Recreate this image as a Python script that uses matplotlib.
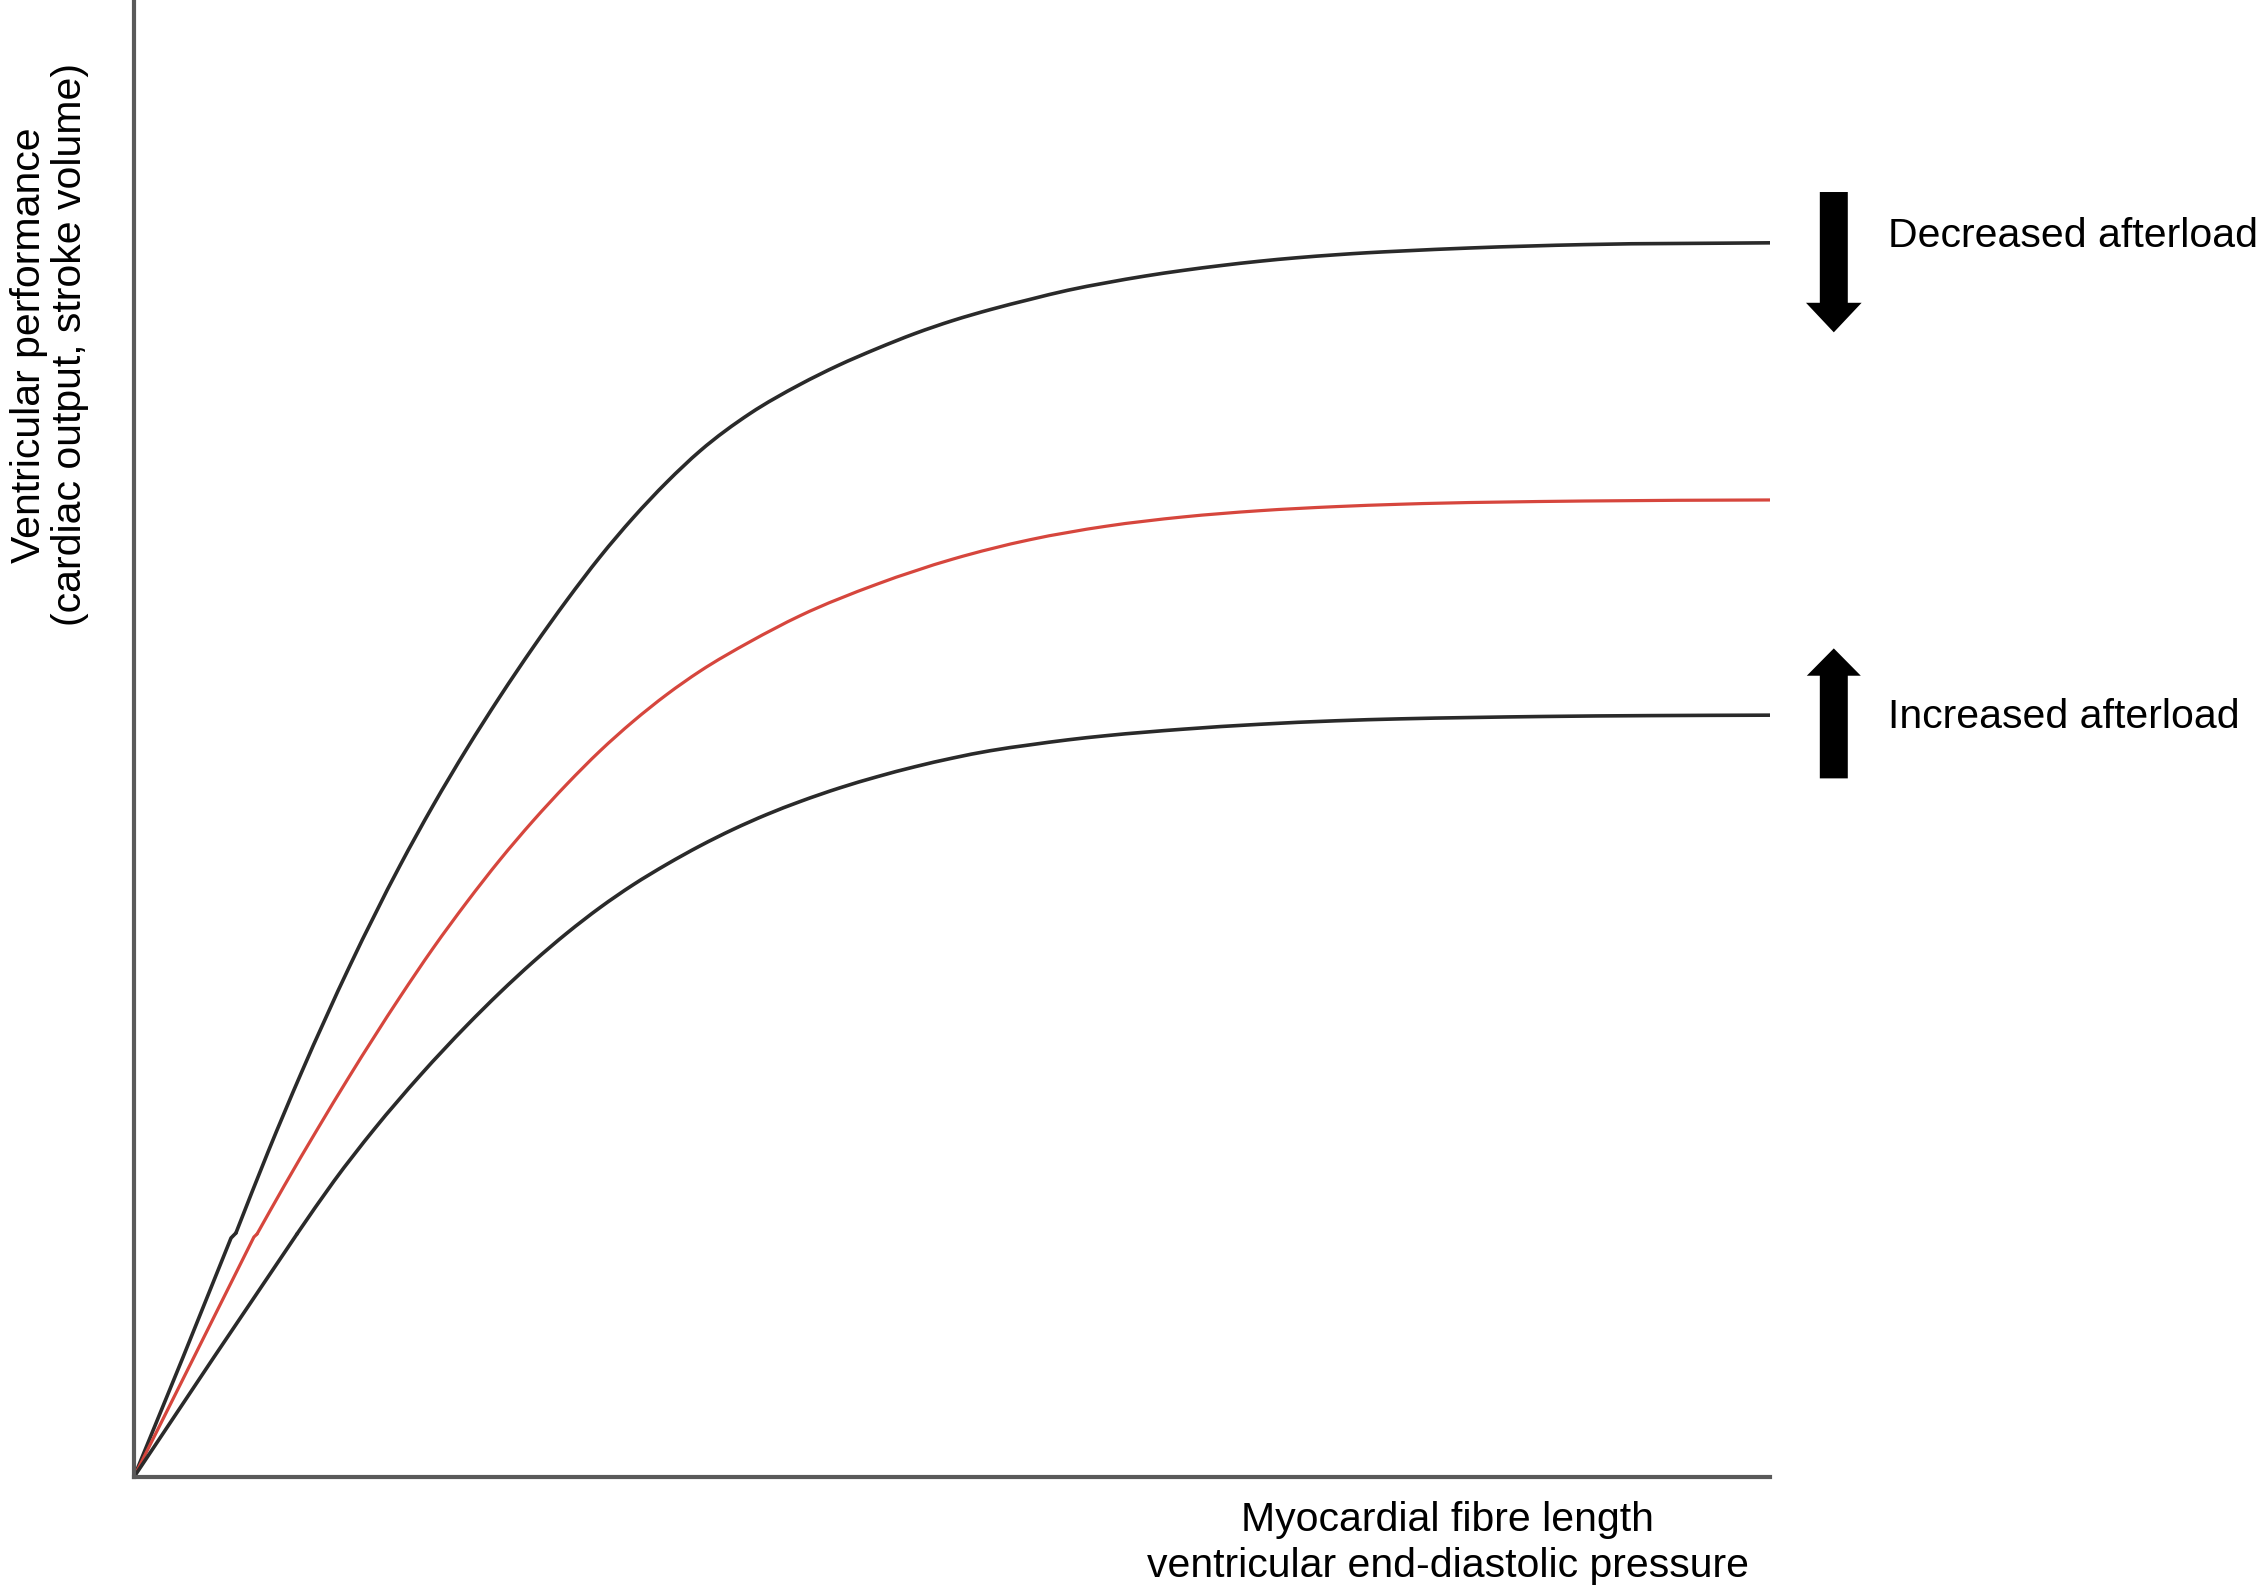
import matplotlib
import numpy as np

matplotlib.use('Agg')
import matplotlib.pyplot as plt
from matplotlib.patches import FancyArrow, PathPatch
from matplotlib.path import Path

# Ventricular function curves (x: fibre length, y: performance, 0-100).
# Each curve has a short straight start up to a small kink, then the smooth part.
x_decreased_start = [0, 3.0, 5.93, 6.23]
y_decreased_start = [0, 8.12, 16.18, 16.52]
x_decreased = [6.23, 8.19, 10.21, 13.20, 16.26, 18.28, 20.35, 22.37, 24.39, 26.47, 28.48,
               30.50, 32.58, 34.60, 37.65, 40.71, 43.03, 45.42, 47.74, 50.06, 52.38, 54.77,
               57.09, 59.41, 61.80, 64.12, 66.44, 68.77, 71.09, 73.47, 75.43, 77.38, 81.66,
               88.69, 100]
y_decreased = [16.52, 22.00, 27.32, 34.63, 41.40, 45.46, 49.32, 52.84, 56.16, 59.38, 62.29,
               64.93, 67.37, 69.47, 72.00, 73.97, 75.25, 76.40, 77.42, 78.30, 79.05, 79.73,
               80.35, 80.85, 81.31, 81.69, 82.02, 82.31, 82.55, 82.75, 82.89, 83.00, 83.21,
               83.44, 83.56]

x_normal_start = [0, 3.73, 7.33, 7.52]
y_normal_start = [0, 8.26, 16.25, 16.45]
x_normal = [7.52, 9.17, 11.19, 13.14, 16.26, 18.28, 20.35, 22.37, 24.39, 26.47, 28.48,
            30.50, 32.58, 34.60, 37.65, 40.71, 45.42, 50.06, 54.77, 59.41, 64.12, 68.77,
            73.47, 77.38, 88.69, 100]
y_normal = [16.45, 19.69, 23.51, 27.08, 32.50, 35.80, 38.93, 41.79, 44.42, 46.92, 49.15,
            51.15, 52.99, 54.56, 56.55, 58.31, 60.45, 62.15, 63.46, 64.37, 65.00, 65.42,
            65.70, 65.86, 66.08, 66.15]

x_increased_start = [0, 4.89, 9.84, 9.96]
y_increased_start = [0, 8.12, 16.25, 16.45]
x_increased = [9.96, 12.22, 14.67, 17.54, 20.35, 22.37, 24.39, 26.47, 28.48, 30.50, 32.58,
               34.60, 36.61, 38.69, 40.71, 43.15, 45.42, 47.74, 50.06, 52.32, 54.77, 57.09,
               59.41, 64.12, 68.77, 73.47, 77.38, 81.66, 86.06, 92.67, 100]
y_increased = [16.45, 20.03, 23.53, 27.25, 30.58, 32.80, 34.87, 36.83, 38.55, 40.09, 41.49,
               42.73, 43.84, 44.86, 45.73, 46.66, 47.41, 48.09, 48.68, 49.17, 49.57, 49.91,
               50.19, 50.63, 50.96, 51.20, 51.33, 51.42, 51.49, 51.55, 51.58]

labels = ['Decreased afterload', 'Increased afterload']
xlabel_lines = ['Myocardial fibre length', 'ventricular end-diastolic pressure']
ylabel_lines = ['Ventricular performance', '(cardiac output, stroke volume)']

plt.rcParams['font.family'] = ['Liberation Sans', 'DejaVu Sans']
FS = 29.5
BLACK = '#2a2a2a'
RED = '#d6463d'


def smooth_line(ax, xs, ys, **kw):
    """Draw the read points joined by cubic Hermite segments (no extra data points)."""
    x = np.asarray(xs, float)
    y = np.asarray(ys, float)
    m = np.gradient(y, x)
    verts = [(x[0], y[0])]
    codes = [Path.MOVETO]
    for i in range(len(x) - 1):
        h = x[i + 1] - x[i]
        verts += [(x[i] + h / 3, y[i] + m[i] * h / 3),
                  (x[i + 1] - h / 3, y[i + 1] - m[i + 1] * h / 3),
                  (x[i + 1], y[i + 1])]
        codes += [Path.CURVE4] * 3
    ax.add_patch(PathPatch(Path(verts, codes), fill=False, capstyle='round',
                           joinstyle='round', **kw))


W, H = 2260, 1585
fig = plt.figure(figsize=(W / 100, H / 100), dpi=100)
ax = fig.add_axes([134 / W, 1 - 1477 / H, (1770 - 134) / W, 1477 / H])
ax.set_xlim(0, 100)
ax.set_ylim(0, 100)

curves = [
    (x_decreased_start, y_decreased_start, x_decreased, y_decreased, BLACK, 2.6),
    (x_normal_start, y_normal_start, x_normal, y_normal, RED, 2.3),
    (x_increased_start, y_increased_start, x_increased, y_increased, BLACK, 2.6),
]
for xs0, ys0, xs, ys, col, lw in curves:
    ax.plot(xs0, ys0, color=col, lw=lw, solid_capstyle='round', solid_joinstyle='round')
    smooth_line(ax, xs, ys, edgecolor=col, lw=lw)

# axes: only left and bottom lines, no ticks
for side in ['top', 'right']:
    ax.spines[side].set_visible(False)
for side in ['left', 'bottom']:
    ax.spines[side].set_color('#5a5a5a')
    ax.spines[side].set_linewidth(3.0)
ax.set_xticks([])
ax.set_yticks([])

# direction arrows
down = FancyArrow(103.9, 87.0, 0, -9.5, width=1.71, head_width=3.4, head_length=2.0,
                  length_includes_head=True, color='black', lw=0)
up = FancyArrow(103.9, 47.3, 0, 8.8, width=1.71, head_width=3.3, head_length=1.85,
                length_includes_head=True, color='black', lw=0)
for arr in [down, up]:
    arr.set_clip_on(False)
    ax.add_patch(arr)

ax.text(107.2, 83.3, labels[0], fontsize=FS, ha='left', va='baseline', clip_on=False)
ax.text(107.2, 50.7, labels[1], fontsize=FS, ha='left', va='baseline', clip_on=False)

# x label, two centred lines under the right end of the axis
ax.text(80.3, -3.66, xlabel_lines[0], fontsize=FS, ha='center', va='baseline', clip_on=False)
ax.text(80.3, -6.77, xlabel_lines[1], fontsize=FS, ha='center', va='baseline', clip_on=False)

# y label
fig.text(50 / W, 1 - 345 / H, '\n'.join(ylabel_lines), fontsize=FS, rotation=90,
         ha='center', va='center', multialignment='center', linespacing=1.1)

fig.savefig('out.png', dpi=100)
